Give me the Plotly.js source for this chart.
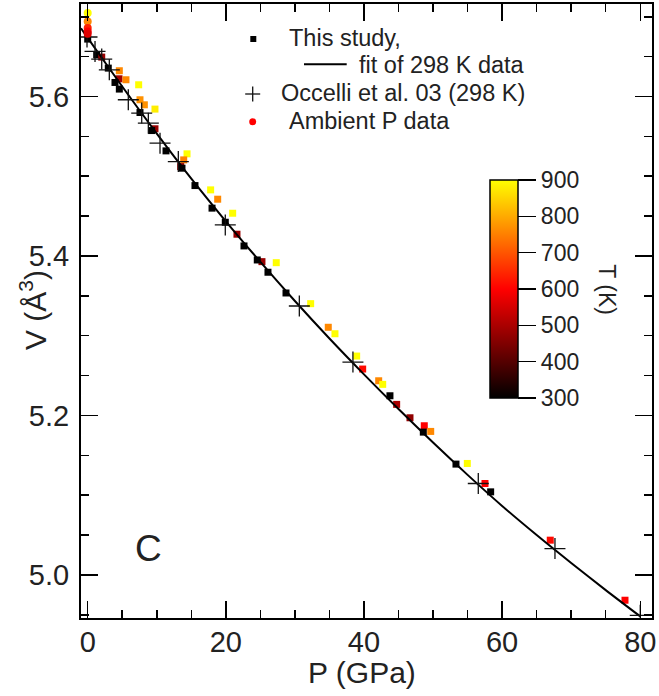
<!DOCTYPE html>
<html><head><meta charset="utf-8">
<script src="https://cdn.plot.ly/plotly-3.0.1.min.js"></script>
<style>html,body{margin:0;padding:0;background:#fff}</style>
</head><body><div id="chart" style="width:659px;height:696px"></div>
<script>
// ---- data ----
const studyP = [0, 1.30, 2.03, 2.98, 4.58, 4.53, 5.54, 3.95, 4.58, 7.38, 7.57, 8.2, 9.74, 7.57, 9.74, 9.26, 11.34, 14.38, 13.9, 13.46, 13.65, 15.53, 17.8, 18.82, 18.0, 20.99, 19.92, 21.61, 22.63, 25.23, 24.55, 27.3, 26.1, 28.71, 32.28, 34.83, 35.8, 38.94, 39.81, 42.13, 42.71, 43.76, 44.73, 46.66, 48.73, 48.59, 49.66, 53.32, 54.96, 57.52, 58.34, 66.97, 77.79];
const studyV = [5.672, 5.6523, 5.6494, 5.6356, 5.6323, 5.6222, 5.621, 5.6176, 5.6093, 5.6147, 5.5959, 5.5896, 5.5842, 5.5799, 5.5595, 5.5573, 5.5318, 5.5281, 5.5205, 5.5121, 5.5101, 5.4883, 5.4829, 5.4712, 5.46, 5.4536, 5.4423, 5.4273, 5.4126, 5.3929, 5.395, 5.3916, 5.3796, 5.3536, 5.3402, 5.3106, 5.3025, 5.2745, 5.2582, 5.2435, 5.239, 5.2247, 5.2139, 5.1971, 5.1871, 5.1791, 5.18, 5.139, 5.1398, 5.1147, 5.1042, 5.0436, 4.9683];
const studyT = [298, 298, 480, 298, 760, 490, 760, 298, 298, 900, 770, 770, 880, 298, 480, 298, 298, 900, 750, 480, 298, 298, 900, 760, 298, 900, 298, 480, 298, 480, 298, 900, 298, 298, 900, 760, 900, 900, 610, 760, 900, 298, 500, 470, 600, 298, 760, 298, 900, 600, 298, 610, 600];

const fitP = [-0.97, 0, 5, 10, 15, 20, 25, 30, 35, 40, 45, 50, 55, 60, 65, 70, 75, 80];
const fitV = [5.6855, 5.6735, 5.6125, 5.5535, 5.497, 5.4435, 5.3925, 5.3435, 5.2965, 5.2515, 5.208, 5.166, 5.1255, 5.0865, 5.05, 5.015, 4.981, 4.948];

const occP = [-0.1, 1.06, 2.03, 3.13, 5.88, 7.82, 8.78, 10.47, 13.12, 19.92, 30.64, 38.4, 56.55, 67.65, 80.0];
const occV = [5.6746, 5.6565, 5.6469, 5.6335, 5.5959, 5.5792, 5.5666, 5.5415, 5.5184, 5.439, 5.3373, 5.2669, 5.1147, 5.0331, 4.9494];

const ambP = [0, 0, 0, 0, 0];
const ambV = [5.7047, 5.6941, 5.6859, 5.6816, 5.6787];
const ambT = [900, 760, 640, 600, 560];

const cbTicks = [300, 400, 500, 600, 700, 800, 900];
const xTicks = [0, 20, 40, 60, 80];
const yTicks = [5.0, 5.2, 5.4, 5.6];

// ---- layout helpers (pixel -> paper) ----
const L = 81, R = 7, T = 4, B = 78, W = 659, H = 696;
const PW = W - L - R, PH = H - T - B;
const PX = px => (px - L) / PW;
const PY = py => (H - B - py) / PH;
const FONT = 'Liberation Sans, Arial, Helvetica, sans-serif';
const TXT = '#222';

const traces = [
  { x: studyP, y: studyV, type: 'scatter', mode: 'markers', showlegend: false,
    marker: { symbol: 'square', size: 7, color: studyT, coloraxis: 'coloraxis', line: { width: 0 } } },
  { x: fitP, y: fitV, type: 'scatter', mode: 'lines', showlegend: false,
    line: { color: '#000', width: 2, shape: 'spline', smoothing: 0.8 } },
  { x: occP, y: occV, type: 'scatter', mode: 'markers', showlegend: false,
    marker: { symbol: 'cross-thin', size: 15, color: '#111', line: { width: 1.3, color: '#111' } } },
  { x: ambP, y: ambV, type: 'scatter', mode: 'markers', showlegend: false, cliponaxis: false,
    marker: { symbol: 'circle', size: 8, color: ambT, coloraxis: 'coloraxis', line: { width: 0 } } }
];

const axisCommon = {
  showline: true, linecolor: '#000', linewidth: 2, mirror: 'allticks',
  ticks: 'inside', ticklen: 17, tickwidth: 1.5, tickcolor: '#000',
  showgrid: false, zeroline: false,
  tickfont: { family: FONT, size: 29, color: TXT }
};

const legendText = [
  { t: 'This study,', x: 286.7, y: 37.7 },
  { t: 'fit of 298 K data', x: 357.3, y: 65.3 },
  { t: 'Occelli et al. 03 (298 K)', x: 279.3, y: 93.3 },
  { t: 'Ambient P data', x: 286.7, y: 121.5 }
];

const annotations = legendText.map(d => ({
  xref: 'paper', yref: 'paper', x: PX(d.x), y: PY(d.y), xanchor: 'left', yanchor: 'middle',
  text: d.t, showarrow: false, font: { family: FONT, size: 23.5, color: TXT }
}));
annotations.push(
  { xref: 'paper', yref: 'paper', x: PX(361.5), y: PY(672), xanchor: 'center', yanchor: 'middle',
    text: 'P (GPa)', showarrow: false, font: { family: FONT, size: 30, color: TXT } },
  { xref: 'paper', yref: 'paper', x: PX(33), y: PY(310), xanchor: 'center', yanchor: 'middle',
    text: 'V (Å<sup>3</sup>)', textangle: -90, showarrow: false, font: { family: FONT, size: 30, color: TXT } },
  { xref: 'x', yref: 'y', x: 8.83, y: 5.0326, xanchor: 'center', yanchor: 'middle',
    text: 'C', showarrow: false, font: { family: FONT, size: 37, color: TXT } },
  { xref: 'paper', yref: 'paper', x: PX(606.7), y: PY(290), xanchor: 'center', yanchor: 'middle',
    text: 'T (K)', textangle: 90, showarrow: false, font: { family: FONT, size: 23, color: TXT } }
);

const shapes = [
  { type: 'rect', xref: 'paper', yref: 'paper', x0: PX(250.3), x1: PX(256.3), y0: PY(42), y1: PY(36),
    fillcolor: '#000', line: { width: 0 } },
  { type: 'line', xref: 'paper', yref: 'paper', x0: PX(304), x1: PX(346.7), y0: PY(64.3), y1: PY(64.3),
    line: { color: '#000', width: 2 } },
  { type: 'line', xref: 'paper', yref: 'paper', x0: PX(245.2), x1: PX(260.2), y0: PY(94), y1: PY(94),
    line: { color: '#111', width: 1.3 } },
  { type: 'line', xref: 'paper', yref: 'paper', x0: PX(252.7), x1: PX(252.7), y0: PY(86.5), y1: PY(101.5),
    line: { color: '#111', width: 1.3 } },
  { type: 'circle', xref: 'paper', yref: 'paper', x0: PX(249.2), x1: PX(256.2), y0: PY(125.2), y1: PY(118.2),
    fillcolor: '#ff0000', line: { width: 0 } }
];

const layout = {
  width: W, height: H,
  margin: { l: L, r: R, t: T, b: B },
  paper_bgcolor: '#fff', plot_bgcolor: '#fff',
  showlegend: false,
  font: { family: FONT, color: TXT },
  xaxis: Object.assign({}, axisCommon, {
    range: [-0.97, 81.7], tickvals: xTicks, ticklabelstandoff: -3,
    minor: { dtick: 5, tick0: 0, ticks: 'inside', ticklen: 8, tickwidth: 1.5, tickcolor: '#000', showgrid: false }
  }),
  yaxis: Object.assign({}, axisCommon, {
    range: [4.946, 5.716], tickvals: yTicks, tickformat: '.1f', ticklabelstandoff: 4,
    minor: { dtick: 0.05, tick0: 5.0, ticks: 'inside', ticklen: 8, tickwidth: 1.5, tickcolor: '#000', showgrid: false }
  }),
  coloraxis: {
    cmin: 300, cmax: 900,
    colorscale: [[0, '#000000'], [0.5, '#ff0000'], [1, '#ffff00']],
    colorbar: {
      x: PX(490), xanchor: 'left', xpad: 0, ypad: 0,
      y: PY(289), yanchor: 'middle',
      len: 218, lenmode: 'pixels', thickness: 28, thicknessmode: 'pixels',
      outlinewidth: 1.5, outlinecolor: '#000', borderwidth: 0,
      ticks: 'outside', ticklen: 18, tickwidth: 1.5, tickcolor: '#000',
      tickvals: cbTicks, tickfont: { family: FONT, size: 23, color: TXT }
    }
  },
  annotations: annotations,
  shapes: shapes
};

Plotly.newPlot('chart', traces, layout, { displayModeBar: false, staticPlot: true });
</script></body></html>
